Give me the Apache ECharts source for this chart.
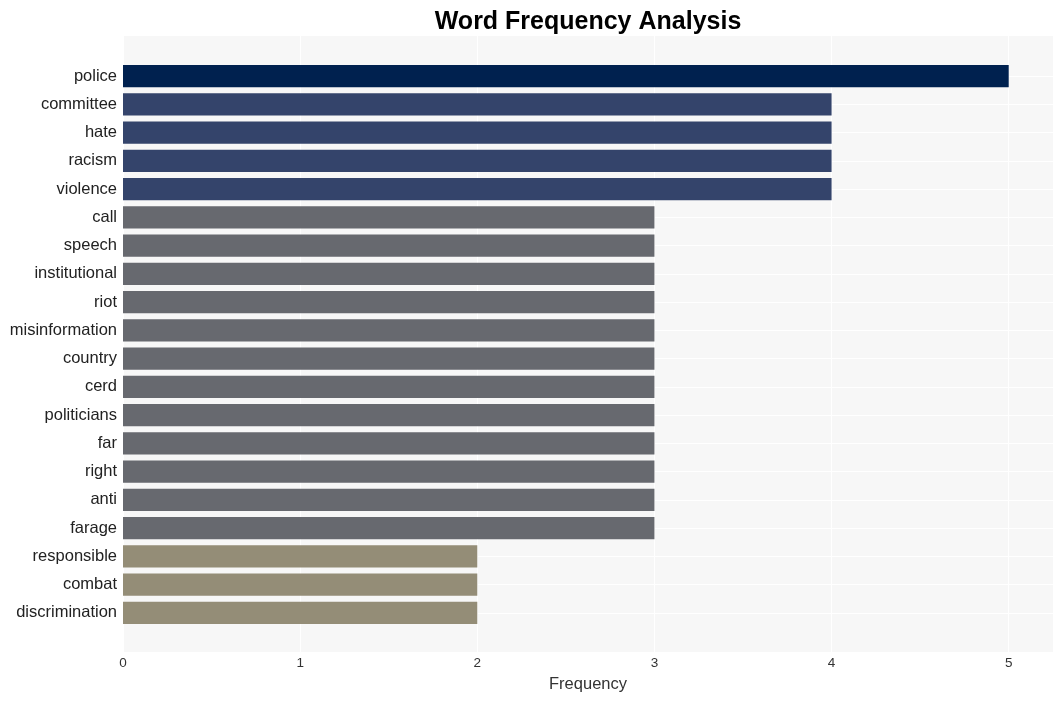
<!DOCTYPE html>
<html><head><meta charset="utf-8">
<script src="https://cdn.jsdelivr.net/npm/echarts@6/dist/echarts.min.js"></script>
<style>html,body{margin:0;padding:0;background:#fff}#c{width:1063px;height:701px}</style>
</head><body><div id="c"></div>
<script>
const categories = ["police","committee","hate","racism","violence","call","speech","institutional","riot","misinformation","country","cerd","politicians","far","right","anti","farage","responsible","combat","discrimination"];
const values = [5,4,4,4,4,3,3,3,3,3,3,3,3,3,3,3,3,2,2,2];
const colorByValue = {5:"#00214f",4:"#34446b",3:"#67696f",2:"#948d77"};
const xTicks = [0,1,2,3,4,5];

const chart = echarts.init(document.getElementById('c'));
const L = 123, R = 1063-1053;
chart.setOption({
  animation:false,
  title:{text:"Word Frequency Analysis",left:583,top:5,textAlign:'center',
    textStyle:{fontFamily:"Liberation Sans, Arial",fontSize:25,fontWeight:'bold',color:'#000'}},
  grid:[
    {left:L,right:R,top:36,bottom:701-652,show:true,backgroundColor:'#f7f7f7',borderWidth:0},
    {left:L,right:R,top:62,bottom:701-627},
    {left:L,right:R,top:76,bottom:701-613}
  ],
  xAxis:[
    {gridIndex:0,type:'value',min:0,max:5.25,interval:1,
      axisLine:{show:false},axisTick:{show:false},
      splitLine:{show:true,lineStyle:{color:'#ffffff',width:1}},
      axisLabel:{color:'#333',fontSize:13.5,fontFamily:"Liberation Sans, Arial",margin:4,
        formatter:v=>xTicks.includes(v)?String(v):''},
      name:'Frequency',nameLocation:'middle',nameGap:24,
      nameTextStyle:{color:'#333',fontSize:16.5,fontFamily:"Liberation Sans, Arial"}},
    {gridIndex:1,type:'value',min:0,max:5.25,show:false,splitLine:{show:false}},
    {gridIndex:2,type:'value',min:0,max:5.25,show:false,splitLine:{show:false}}
  ],
  yAxis:[
    {gridIndex:0,type:'value',show:false,splitLine:{show:false}},
    {gridIndex:1,type:'category',inverse:true,data:categories,
      axisLine:{show:false},axisTick:{show:false},splitLine:{show:false},
      axisLabel:{color:'#222',fontSize:16.5,fontFamily:"Liberation Sans, Arial",margin:6,padding:[3,0,0,0]}},
    {gridIndex:2,type:'category',inverse:true,data:categories,boundaryGap:false,
      axisLine:{show:false},axisTick:{show:false},axisLabel:{show:false},
      splitLine:{show:true,lineStyle:{color:'#ffffff',width:1}}}
  ],
  series:[{
    type:'bar',xAxisIndex:1,yAxisIndex:1,barCategoryGap:'22%',
    data:values.map(v=>({value:v,itemStyle:{color:colorByValue[v]}}))
  }]
});
</script></body></html>
